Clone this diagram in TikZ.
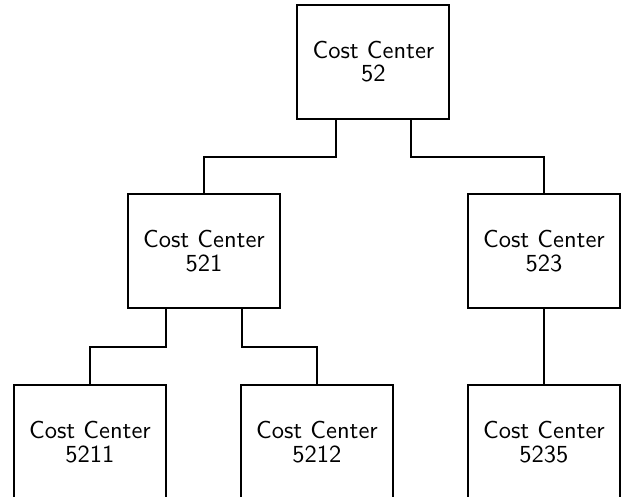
\documentclass[tikz,border=0pt]{standalone}
\begin{document}
\begin{tikzpicture}[x=0.4pt, y=-0.4pt,
    costbox/.style={draw, thick, align=center, inner sep=0pt,
        minimum width=60.8pt, minimum height=45.6pt,
        font=\sffamily\fontsize{9.8}{9.3}\selectfont}]
    \useasboundingbox (0, 0) rectangle (623, 496);

    \coordinate (P52) at (373.5, 61.5);
    \coordinate (P521) at (204, 251);
    \coordinate (P523) at (544, 251);
    \coordinate (P5211) at (90, 442);
    \coordinate (P5212) at (317, 442);
    \coordinate (P5235) at (544, 442);

    \node[costbox] (c52) at (P52) {Cost Center\\52};
    \node[costbox] (c521) at (P521) {Cost Center\\521};
    \node[costbox] (c523) at (P523) {Cost Center\\523};
    \node[costbox] (c5211) at (P5211) {Cost Center\\5211};
    \node[costbox] (c5212) at (P5212) {Cost Center\\5212};
    \node[costbox] (c5235) at (P5235) {Cost Center\\5235};

    \draw[thick] ([xshift=-15pt]c52.south) -- ++(0, 37) -| (c521.north);
    \draw[thick] ([xshift=15pt]c52.south) -- ++(0, 37) -| (c523.north);

    \draw[thick] ([xshift=-15.2pt]c521.south) -- ++(0, 38) -| (c5211.north);
    \draw[thick] ([xshift=15.2pt]c521.south) -- ++(0, 38) -| (c5212.north);
    \draw[thick] (c523.south) -- (c5235.north);
\end{tikzpicture}
\end{document}
